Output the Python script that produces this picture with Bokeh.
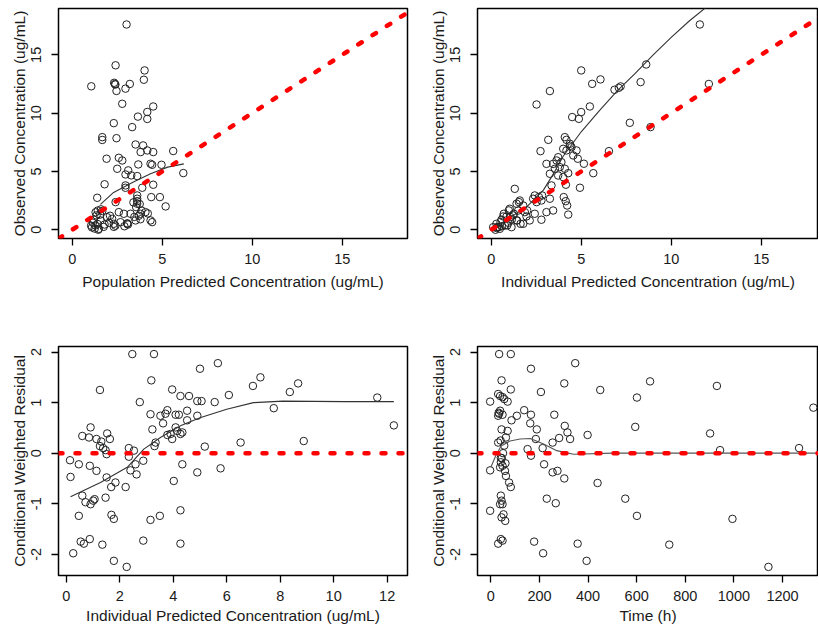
import math
from bokeh.plotting import figure
from bokeh.layouts import column, row
from bokeh.models import FixedTicker, Range1d, Slope, Span
from bokeh.embed import file_html
from bokeh.resources import INLINE

# ---------------- data ----------------
conc_ticks = [0, 5, 10, 15]
ipred_ticks = [0, 2, 4, 6, 8, 10, 12]
time_ticks = [0, 200, 400, 600, 800, 1000, 1200]
cwres_ticks = [-2, -1, 0, 1, 2]
cwres_tick_labels = ["-2", "-1", "0", "1", "2"]

# Panel 1: population predicted vs observed
pred_x = [3.02, 2.41, 1.06, 2.33, 2.40, 2.37, 2.46, 2.96, 3.20, 4.02, 3.98, 4.50, 4.17, 4.17, 3.65,
          2.78, 2.31, 3.33, 1.67, 1.67, 2.46, 3.52, 3.94, 4.17, 3.80, 4.50, 5.61, 1.91, 2.59, 2.78,
          3.67, 4.35, 4.44, 4.96, 2.50, 3.11, 2.96, 3.28, 3.61, 6.17, 1.80, 2.96, 2.96, 3.89, 4.50,
          1.39, 2.41, 3.61, 3.61, 3.61, 3.61, 3.55, 4.39, 4.87, 5.19, 1.42, 1.67, 1.35, 1.20, 1.57,
          1.29, 1.48, 1.94, 2.22, 2.31, 2.68, 3.06, 2.87, 3.24, 2.59, 3.79, 3.52, 4.07, 4.35, 3.79,
          2.31, 1.10, 1.25, 1.40, 1.55, 1.30, 1.60, 1.05, 1.80, 2.05, 3.06, 3.10, 3.45, 3.70, 3.85,
          4.20, 4.44, 2.10, 1.45, 3.40, 3.75, 2.40, 1.75, 1.15, 2.90]
pred_obs = [17.6, 14.1, 12.3, 12.6, 12.45, 12.5, 11.9, 12.1, 12.5, 13.66, 12.86, 10.57, 10.1, 9.5, 9.7,
            10.8, 9.14, 8.8, 7.94, 7.7, 7.85, 7.31, 7.23, 6.8, 6.66, 6.66, 6.75, 6.09, 6.17, 5.94,
            5.6, 5.66, 5.57, 5.57, 5.23, 5.09, 4.74, 4.66, 4.6, 4.86, 3.9, 3.8, 3.6, 3.6, 3.86,
            2.74, 2.37, 2.94, 2.66, 2.45, 2.23, 1.94, 2.8, 2.8, 2.0, 1.65, 1.6, 1.23, 0.86, 0.8,
            0.37, 0.08, 1.08, 0.94, 0.51, 0.65, 0.51, 1.37, 1.37, 1.51, 1.37, 0.8, 1.51, 0.8, 0.9,
            0.25, 0.2, 0.1, 0.5, 1.3, 1.5, 1.75, 0.35, 0.45, 0.6, 0.55, 0.45, 1.1, 1.2, 1.65,
            1.4, 0.65, 1.2, 0.0, 2.35, 2.2, 0.35, 0.25, 0.6, 0.3]
pred_smooth_x = [1.57, 2.3, 3.4, 4.35, 5.3, 6.2]
pred_smooth_y = [2.17, 3.2, 4.1, 4.8, 5.37, 5.65]

# Panel 2: individual predicted vs observed
ipred_x = [11.59, 8.61, 12.09, 8.30, 7.19, 7.09, 6.85, 6.07, 5.61, 5.00, 3.26, 2.52, 5.48, 5.00, 4.50,
           4.87, 7.70, 8.85, 3.17, 4.09, 4.18, 4.37, 4.46, 4.18, 4.00, 4.74, 4.56, 2.74, 3.72, 3.63,
           3.90, 3.44, 3.81, 4.09, 3.54, 3.26, 3.72, 4.00, 4.28, 3.07, 5.67, 4.81, 6.54, 5.15, 4.15,
           4.93, 3.35, 1.31, 2.42, 2.83, 2.33, 2.79, 2.52, 3.26, 4.03, 4.14, 4.22, 4.28, 3.44, 3.07,
           2.79, 2.14, 1.59, 1.41, 1.78, 1.03, 1.50, 1.87, 1.22, 0.85, 0.57, 0.29, 0.11, 0.76, 1.41,
           1.78, 1.13, 0.48, 1.96, 2.42, 0.24, 0.33, 0.52, 0.70, 0.98, 1.07, 1.26, 1.44, 1.63, 0.89,
           0.43, 0.67, 2.00, 1.54, 0.30, 0.60, 0.95, 1.15, 4.40, 2.65]
ipred_obs = [17.6, 14.17, 12.5, 12.66, 12.29, 12.17, 12.0, 12.89, 12.51, 13.66, 11.89, 10.74, 10.57, 10.09, 9.66,
             9.51, 9.17, 8.8, 7.71, 7.94, 7.71, 7.37, 7.08, 6.8, 6.94, 6.8, 6.37, 6.74, 6.22, 5.94,
             5.8, 5.65, 5.37, 5.23, 5.23, 4.8, 4.65, 4.51, 4.85, 5.65, 4.85, 6.09, 6.74, 5.66, 3.86,
             3.6, 3.8, 3.51, 2.94, 2.94, 2.66, 2.51, 2.37, 2.66, 2.8, 2.45, 2.08, 1.3, 1.65, 1.51,
             0.86, 0.8, 2.51, 2.23, 2.08, 1.8, 1.65, 1.51, 1.23, 1.14, 0.86, 0.51, 0.22, 0.37, 0.8,
             0.51, 0.22, 0.08, 1.14, 1.37, 0.0, 0.23, 0.66, 1.37, 1.66, 1.09, 1.37, 0.8, 0.51, 0.37,
             0.23, 1.14, 1.66, 2.37, 0.15, 0.3, 0.6, 0.9, 7.2, 2.8]
ipred_smooth_x = [0.2, 1.0, 2.0, 2.9, 3.5, 4.0, 5.0, 6.0, 7.0, 8.0, 9.0, 10.0, 11.0, 12.2]
ipred_smooth_y = [0.2, 1.0, 2.0, 3.4, 4.9, 6.3, 8.4, 10.2, 11.9, 13.4, 15.0, 16.5, 17.9, 19.4]

# Panel 3: individual predicted vs CWRES
res_ipred = [2.47, 3.28, 5.67, 5.00, 3.18, 7.26, 6.98, 8.67, 8.36, 1.26, 3.96, 4.27, 4.59, 6.08, 11.63,
             4.90, 5.06, 5.55, 2.75, 7.76, 3.15, 3.52, 3.71, 3.78, 4.09, 4.21, 4.52, 4.90, 3.62, 4.52,
             4.09, 4.15, 4.34, 3.90, 4.27, 3.78, 3.96, 3.22, 3.34, 3.30, 5.18, 6.52, 8.88, 12.25, 0.91,
             0.60, 0.85, 1.13, 1.31, 1.26, 1.38, 1.47, 1.53, 1.63, 1.51, 2.34, 2.53, 0.14, 0.47, 0.88,
             1.13, 0.16, 2.34, 2.40, 2.59, 2.63, 2.88, 1.51, 1.68, 1.84, 2.22, 4.34, 4.90, 5.77, 4.02,
             0.60, 0.72, 0.91, 1.01, 1.06, 1.47, 0.47, 1.69, 1.78, 3.15, 3.50, 4.27, 0.88, 0.54, 0.66,
             1.35, 2.88, 4.27, 0.26, 1.78, 2.26]
res_cwres = [1.96, 1.96, 1.78, 1.67, 1.44, 1.5, 1.33, 1.38, 1.21, 1.25, 1.26, 1.13, 1.13, 1.15, 1.1,
             1.03, 1.03, 1.01, 1.01, 0.89, 0.77, 0.74, 0.78, 0.85, 0.76, 0.76, 0.84, 0.74, 0.59, 0.65,
             0.51, 0.44, 0.41, 0.38, 0.38, 0.36, 0.28, 0.47, 0.21, 0.14, 0.13, 0.21, 0.24, 0.55, 0.51,
             0.34, 0.31, 0.28, 0.23, 0.14, 0.1, 0.06, 0.39, 0.28, -0.02, 0.1, 0.05, -0.14, -0.22, -0.25,
             -0.35, -0.47, -0.07, -0.34, -0.22, -0.42, -0.15, -0.48, -0.67, -0.58, -0.67, -0.22, -0.38, -0.3, -0.55,
             -0.84, -0.97, -1.01, -0.94, -0.91, -0.88, -1.24, -1.22, -1.3, -1.32, -1.24, -1.13, -1.7, -1.75, -1.79,
             -1.81, -1.73, -1.79, -1.98, -2.13, -2.25]
res_smooth_x = [0.16, 1.28, 2.28, 2.9, 3.52, 4.27, 5.0, 6.0, 7.0, 8.1, 10.4, 12.25]
res_smooth_y = [-0.86, -0.58, -0.28, 0.08, 0.31, 0.54, 0.70, 0.87, 1.0, 1.03, 1.02, 1.02]

# Panel 4: time vs CWRES
time_h = [34, 82, 165, 347, 44, 82, 206, 302, 450, 655, 601, 930, -3, 30, 38,
          48, 55, 69, 38, 34, 48, 30, 137, 165, 107, 85, 261, 162, 304, 315,
          189, 69, 44, 594, 902, 398, 1327, 1268, 943, 326, 281, 254, 185, 62, 30,
          151, 165, 213, -3, 41, 41, 48, 38, 58, 62, 75, 82, 219, 254, 274,
          302, 439, 41, 44, 48, 38, 52, 44, 59, -3, 230, 267, 553, 601, 994,
          41, 48, 30, 178, 215, 357, 394, 734, 1142, 50, 45, 55, 40, 60, 32]
time_cwres = [1.96, 1.96, 1.67, 1.78, 1.44, 1.26, 1.21, 1.38, 1.25, 1.42, 1.1, 1.33, 1.02, 1.17, 1.13,
              1.11, 1.07, 1.02, 0.84, 0.78, 0.76, 0.74, 0.85, 0.76, 0.74, 0.65, 0.76, 0.59, 0.54, 0.41,
              0.47, 0.44, 0.47, 0.52, 0.39, 0.36, 0.9, 0.1, 0.06, 0.28, 0.3, 0.21, 0.28, 0.31, 0.21,
              0.08, -0.05, 0.1, -0.34, -0.09, -0.18, -0.25, -0.28, -0.35, -0.45, -0.58, -0.67, -0.22, -0.38, -0.35,
              -0.5, -0.59, -0.84, -0.94, -1.01, -1.01, -1.21, -1.27, -1.34, -1.14, -0.9, -0.99, -0.9, -1.24, -1.3,
              -1.7, -1.73, -1.79, -1.75, -1.98, -1.79, -2.13, -1.81, -2.25, 0.0, -0.1, 0.15, 0.25, -0.2, 0.8]
time_smooth_x = [0, 20, 42, 79, 120, 162, 217, 271, 340, 500, 800, 1100, 1340]
time_smooth_y = [-0.28, -0.05, 0.14, 0.24, 0.28, 0.29, 0.18, 0.05, -0.02, 0.0, 0.0, 0.0, 0.0]

# ---------------- styling ----------------
FONT = "Liberation Sans"
TXT = "#1a1a1a"
TICK_FS = "14.5px"
TITLE_FS = "15.5px"


def make_fig(width, height, xr, yr, xticks, yticks, xlabel, ylabel, borders, x_title_standoff,
             ytick_labels=None):
    p = figure(width=width, height=height, x_range=Range1d(*xr), y_range=Range1d(*yr),
               output_backend="svg", toolbar_location=None,
               min_border_left=borders[0], min_border_right=borders[1],
               min_border_top=borders[2], min_border_bottom=borders[3])
    p.grid.visible = False
    p.outline_line_color = "black"
    p.outline_line_width = 1.5
    p.background_fill_color = "white"
    p.border_fill_color = "white"
    p.xaxis.ticker = FixedTicker(ticks=xticks)
    p.yaxis.ticker = FixedTicker(ticks=yticks)
    if ytick_labels is not None:
        p.yaxis.major_label_overrides = {t: s for t, s in zip(yticks, ytick_labels)}
    p.xaxis.axis_label = xlabel
    p.yaxis.axis_label = ylabel
    p.yaxis.major_label_orientation = "vertical"
    for ax in (p.xaxis[0], p.yaxis[0]):
        ax.axis_line_color = None
        ax.major_tick_line_color = "black"
        ax.major_tick_line_width = 1.3
        ax.major_tick_out = 7
        ax.major_tick_in = 0
        ax.minor_tick_line_color = None
        ax.major_label_text_font = FONT
        ax.major_label_text_font_size = TICK_FS
        ax.major_label_text_color = TXT
        ax.axis_label_text_font = FONT
        ax.axis_label_text_font_size = TITLE_FS
        ax.axis_label_text_font_style = "normal"
        ax.axis_label_text_color = TXT
    p.xaxis.major_label_standoff = 8
    p.xaxis.axis_label_standoff = x_title_standoff
    p.yaxis.major_label_standoff = 10
    p.yaxis.axis_label_standoff = 1
    return p


def points(p, x, y):
    p.scatter(x, y, marker="circle", size=7.5, fill_color=None, line_color="#222222", line_width=1)


def smooth(p, x, y, color="#333333"):
    p.line(x, y, line_color=color, line_width=1.1)


RED = dict(line_color="#ff0000", line_width=4.5, line_dash="4 13", line_cap="round")

TOP_B_L = (58, 3, 8, 92)
TOP_B_R = (67, 0, 8, 92)
BOT_B_L = (58, 3, 16, 52)
BOT_B_R = (67, 0, 16, 52)

p1 = make_fig(410, 330, (-0.76, 18.62), (-0.75, 18.97), conc_ticks, conc_ticks,
              "Population Predicted Concentration (ug/mL)", "Observed Concentration (ug/mL)", TOP_B_L, 6)
points(p1, pred_x, pred_obs)
smooth(p1, pred_smooth_x, pred_smooth_y)
p1.add_layout(Slope(gradient=1, y_intercept=0, **RED))

p2 = make_fig(408, 330, (-0.76, 18.18), (-0.75, 18.97), conc_ticks, conc_ticks,
              "Individual Predicted Concentration (ug/mL)", "Observed Concentration (ug/mL)", TOP_B_R, 6)
points(p2, ipred_x, ipred_obs)
smooth(p2, ipred_smooth_x, ipred_smooth_y)
p2.add_layout(Slope(gradient=1, y_intercept=0, **RED))

p3 = make_fig(410, 297, (-0.29, 12.76), (-2.42, 2.11), ipred_ticks, cwres_ticks,
              "Individual Predicted Concentration (ug/mL)", "Conditional Weighted Residual", BOT_B_L, 3,
              cwres_tick_labels)
points(p3, res_ipred, res_cwres)
smooth(p3, res_smooth_x, res_smooth_y)
p3.add_layout(Span(location=0, dimension="width", **RED))

p4 = make_fig(408, 297, (-55, 1348), (-2.42, 2.11), time_ticks, cwres_ticks,
              "Time (h)", "Conditional Weighted Residual", BOT_B_R, 3, cwres_tick_labels)
points(p4, time_h, time_cwres)
smooth(p4, time_smooth_x, time_smooth_y, color="#555555")
p4.add_layout(Span(location=0, dimension="width", **RED))

layout = column(row(p1, p2), row(p3, p4))

open("out.html", "w").write(file_html(layout, INLINE))
